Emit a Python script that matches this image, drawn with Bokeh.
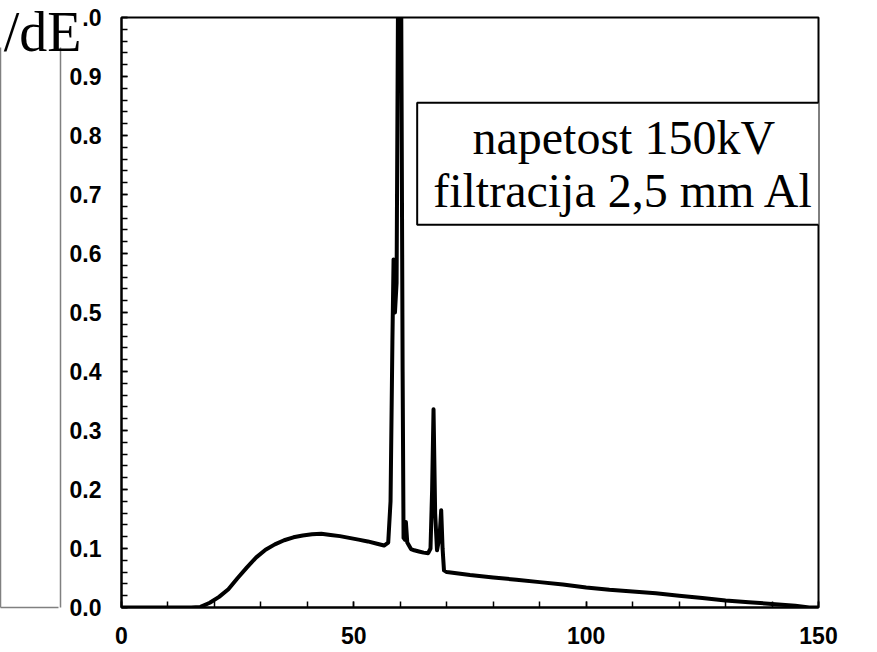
from bokeh.plotting import figure
from bokeh.models import (Range1d, Label, FixedTicker, LinearAxis,
                          PrintfTickFormatter)
from bokeh.embed import file_html
from bokeh.resources import INLINE

# X-ray tube spectrum, 150 kV, 2.5 mm Al filtration
energy_keV = [0, 10, 15, 17, 19, 21, 23, 25, 27, 29, 31, 33, 35, 37, 39, 41, 43, 45,
              47, 49, 51, 53, 55, 56.5, 57.4, 57.9, 58.3, 58.55, 58.85, 59.2, 59.5,
              60.2, 60.5, 60.7, 61.0, 61.2, 61.5, 62.3, 63, 64, 65, 66, 66.5, 66.85,
              67.15, 67.5, 67.9, 68.45, 68.8, 69.1, 69.4, 70, 75, 80, 85, 90, 95, 100,
              105, 110, 115, 120, 125, 130, 135, 140, 145, 148, 150]
dN_dE = [0.0, 0.0, 0.0, 0.001, 0.008, 0.018, 0.031, 0.050, 0.068, 0.085, 0.098, 0.107,
         0.114, 0.119, 0.122, 0.124, 0.125, 0.123, 0.121, 0.118, 0.115, 0.112, 0.108,
         0.105, 0.110, 0.18, 0.45, 0.590, 0.50, 0.55, 1.02, 1.02, 0.40, 0.118, 0.115,
         0.145, 0.110, 0.099, 0.097, 0.095, 0.093, 0.092, 0.100, 0.200, 0.336, 0.16,
         0.097, 0.120, 0.165, 0.10, 0.063, 0.060, 0.055, 0.051, 0.047, 0.043, 0.039,
         0.034, 0.030, 0.027, 0.024, 0.020, 0.016, 0.012, 0.009, 0.006, 0.003, 0.0, 0.0]

x_ticks = [0, 50, 100, 150]
y_ticks = [0.0, 0.1, 0.2, 0.3, 0.4, 0.5, 0.6, 0.7, 0.8, 0.9, 1.0]
y_title = "/dE"            # visible (cut-off) part of the y title "dN/dE"
y_title_at = 0.975
grey_box_span = (0.0, 0.949)
box_text = "napetost 150kV\nfiltracija 2,5 mm Al"

p = figure(width=877, height=652, output_backend="svg", toolbar_location=None,
           x_range=Range1d(0, 150), y_range=Range1d(0, 1.0),
           min_border_left=121, min_border_right=59, min_border_top=17,
           min_border_bottom=45)
p.background_fill_color = "white"
p.border_fill_color = "white"
p.grid.visible = False
p.outline_line_color = "black"
p.outline_line_width = 2

p.line(energy_keV, dN_dE, line_color="black", line_width=4, line_join="round")

p.xaxis.ticker = FixedTicker(ticks=x_ticks, minor_ticks=list(range(0, 151, 10)))
p.yaxis.ticker = FixedTicker(ticks=y_ticks,
                             minor_ticks=[round(i * 0.02, 2) for i in range(51)])
p.yaxis.formatter = PrintfTickFormatter(format="%.1f")
p.yaxis.major_label_overrides = {1.0: ".0"}   # the "1" is hidden behind the title box
for ax in (p.xaxis[0], p.yaxis[0]):
    ax.axis_line_color = "black"
    ax.axis_line_width = 2
    ax.major_tick_in = 6
    ax.major_tick_out = 0
    ax.minor_tick_in = 6
    ax.minor_tick_out = 0
    ax.major_tick_line_width = 1.5
    ax.minor_tick_line_width = 1.5
    ax.major_tick_line_color = "black"
    ax.minor_tick_line_color = "black"
    ax.major_label_text_font = "Liberation Sans"
    ax.major_label_text_font_style = "bold"
    ax.major_label_text_font_size = "23px"
    ax.major_label_text_color = "black"
p.xaxis.major_label_standoff = 19
p.yaxis.major_label_standoff = 20


def side_axis(ticks, minor=(), line_color=None, tick_out=0, **kw):
    ax = LinearAxis(ticker=FixedTicker(ticks=list(ticks), minor_ticks=list(minor)),
                    axis_line_color=line_color, axis_line_width=1.5,
                    major_tick_out=tick_out, major_tick_in=0,
                    minor_tick_out=0, minor_tick_in=0,
                    major_tick_line_color=None, minor_tick_line_color=None,
                    major_label_text_color=None, axis_label=None)
    for k, v in kw.items():
        setattr(ax, k, v)
    p.add_layout(ax, "left")
    return ax


# spacer so the next line sits left of the tick labels
side_axis([0.5], tick_out=6)
# right edge of the grey frame
side_axis([], line_color="#808080", bounds=grey_box_span)
# the cut-off title text
side_axis([y_title_at], major_label_overrides={y_title_at: y_title},
          major_label_text_color="black", major_label_text_font="Liberation Serif",
          major_label_text_font_size="56px", major_label_standoff=-21)
# left edge + bottom edge of the grey frame
side_axis([grey_box_span[0]], line_color="#808080", bounds=grey_box_span,
          major_tick_in=58, major_tick_line_color="#808080",
          major_tick_line_width=1.5)

# annotation box
p.add_layout(Label(x=108.1, y=0.752, text=box_text, text_align="center",
                   text_baseline="middle", text_font="Liberation Serif",
                   text_font_size="48px", text_color="black", text_line_height=1.0,
                   border_line_color="black", border_line_width=2,
                   background_fill_color="white",
                   padding=dict(left=16, right=16, top=8, bottom=8)))

open("out.html", "w").write(file_html(p, INLINE))
